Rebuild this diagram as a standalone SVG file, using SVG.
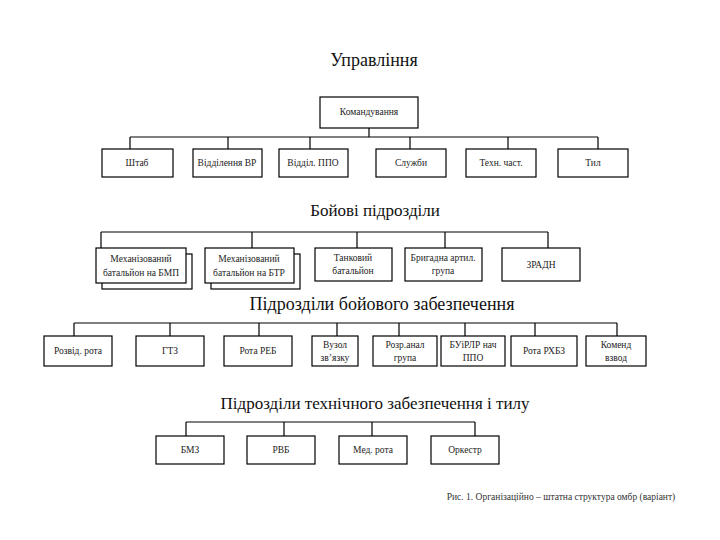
<svg xmlns="http://www.w3.org/2000/svg" width="720" height="540" viewBox="0 0 720 540">
<style>
.bg{fill:#fff}
.box{fill:#fff;stroke:#000;stroke-width:1.2}
text{font-family:"Liberation Serif","DejaVu Serif","Times New Roman",serif}
.title{fill:#111;text-anchor:middle}
.lbl{font-size:9.5px;fill:#222;text-anchor:middle}
.cap{font-size:9.5px;fill:#333;text-anchor:middle}
#connectors path{fill:none;stroke:#000;stroke-width:1.2}
</style>
<rect class="bg" x="0" y="0" width="720" height="540"/>

<text class="title" x="374" y="66" font-size="18">Управління</text>
<text class="title" x="375" y="216" font-size="17">Бойові підрозділи</text>
<text class="title" x="382" y="310" font-size="18">Підрозділи бойового забезпечення</text>
<text class="title" x="375" y="409" font-size="17">Підрозділи технічного забезпечення і тилу</text>

<g id="connectors">
  <path d="M369 128V137M130 137H598M130 137V149M228 137V149M310 137V149M410 137V149M508 137V149M598 137V149"/>
  <path d="M101 232H548M101 232V248M252 232V248M357 232V248M445 232V248M548 232V248"/>
  <path d="M74 323H617M74 323V336M170 323V336M259 323V336M337 323V336M399 323V336M465 323V336M535 323V336M617 323V336"/>
  <path d="M186 422H475M186 422V436M284 422V436M372 422V436M475 422V436"/>
</g>

<g id="n-komanduvannia"><rect class="box" x="320" y="97" width="98" height="31"/><text class="lbl" x="369" y="115">Командування</text></g>

<g id="n-shtab"><rect class="box" x="102" y="149" width="71" height="28"/><text class="lbl" x="137" y="166">Штаб</text></g>
<g id="n-viddilennia-vr"><rect class="box" x="193" y="149" width="69" height="28"/><text class="lbl" x="227" y="166">Відділення ВР</text></g>
<g id="n-viddil-ppo"><rect class="box" x="279" y="149" width="69" height="28"/><text class="lbl" x="313" y="166">Відділ. ППО</text></g>
<g id="n-sluzhby"><rect class="box" x="376" y="149" width="70" height="28"/><text class="lbl" x="411" y="166">Служби</text></g>
<g id="n-tekhn"><rect class="box" x="466" y="149" width="70" height="28"/><text class="lbl" x="501" y="166">Техн. част.</text></g>
<g id="n-tyl"><rect class="box" x="558" y="149" width="70" height="28"/><text class="lbl" x="593" y="166">Тил</text></g>

<g id="n-mb-bmp"><rect class="box" x="102" y="254" width="90" height="35"/><rect class="box" x="96" y="248" width="90" height="35"/><text class="lbl" x="141" y="262">Механізований</text><text class="lbl" x="141" y="276">батальйон на БМП</text></g>
<g id="n-mb-btr"><rect class="box" x="211" y="254" width="89" height="35"/><rect class="box" x="205" y="248" width="89" height="35"/><text class="lbl" x="249" y="262">Механізований</text><text class="lbl" x="249" y="276">батальйон на БТР</text></g>
<g id="n-tank"><rect class="box" x="315" y="248" width="77" height="33"/><text class="lbl" x="353" y="261">Танковий</text><text class="lbl" x="353" y="274">батальйон</text></g>
<g id="n-bag"><rect class="box" x="405" y="248" width="77" height="33"/><text class="lbl" x="443" y="261">Бригадна артил.</text><text class="lbl" x="443" y="274">група</text></g>
<g id="n-zradn"><rect class="box" x="502" y="248" width="78" height="33"/><text class="lbl" x="541" y="268">ЗРАДН</text></g>

<g id="n-rozvid"><rect class="box" x="44" y="336" width="68" height="30"/><text class="lbl" x="78" y="354">Розвід. рота</text></g>
<g id="n-gtz"><rect class="box" x="136" y="336" width="68" height="30"/><text class="lbl" x="170" y="354">ГТЗ</text></g>
<g id="n-reb"><rect class="box" x="224" y="336" width="68" height="30"/><text class="lbl" x="258" y="354">Рота РЕБ</text></g>
<g id="n-vuzol"><rect class="box" x="312" y="336" width="46" height="30"/><text class="lbl" x="335" y="348">Вузол</text><text class="lbl" x="335" y="361">зв’язку</text></g>
<g id="n-rozr"><rect class="box" x="373" y="336" width="64" height="30"/><text class="lbl" x="405" y="348">Розр.анал</text><text class="lbl" x="405" y="361">група</text></g>
<g id="n-buirlr"><rect class="box" x="441" y="336" width="64" height="30"/><text class="lbl" x="473" y="348">БУіРЛР нач</text><text class="lbl" x="473" y="361">ППО</text></g>
<g id="n-rkhbz"><rect class="box" x="511" y="336" width="66" height="30"/><text class="lbl" x="544" y="354">Рота РХБЗ</text></g>
<g id="n-komend"><rect class="box" x="586" y="336" width="60" height="30"/><text class="lbl" x="616" y="348">Коменд</text><text class="lbl" x="616" y="361">взвод</text></g>

<g id="n-bmz"><rect class="box" x="156" y="436" width="68" height="28"/><text class="lbl" x="190" y="453">БМЗ</text></g>
<g id="n-rvb"><rect class="box" x="247" y="436" width="68" height="28"/><text class="lbl" x="281" y="453">РВБ</text></g>
<g id="n-med"><rect class="box" x="339" y="436" width="68" height="28"/><text class="lbl" x="373" y="453">Мед. рота</text></g>
<g id="n-orkestr"><rect class="box" x="431" y="436" width="68" height="28"/><text class="lbl" x="465" y="453">Оркестр</text></g>

<text class="cap" x="561" y="500">Рис. 1. Організаційно – штатна структура омбр (варіант)</text>
</svg>
